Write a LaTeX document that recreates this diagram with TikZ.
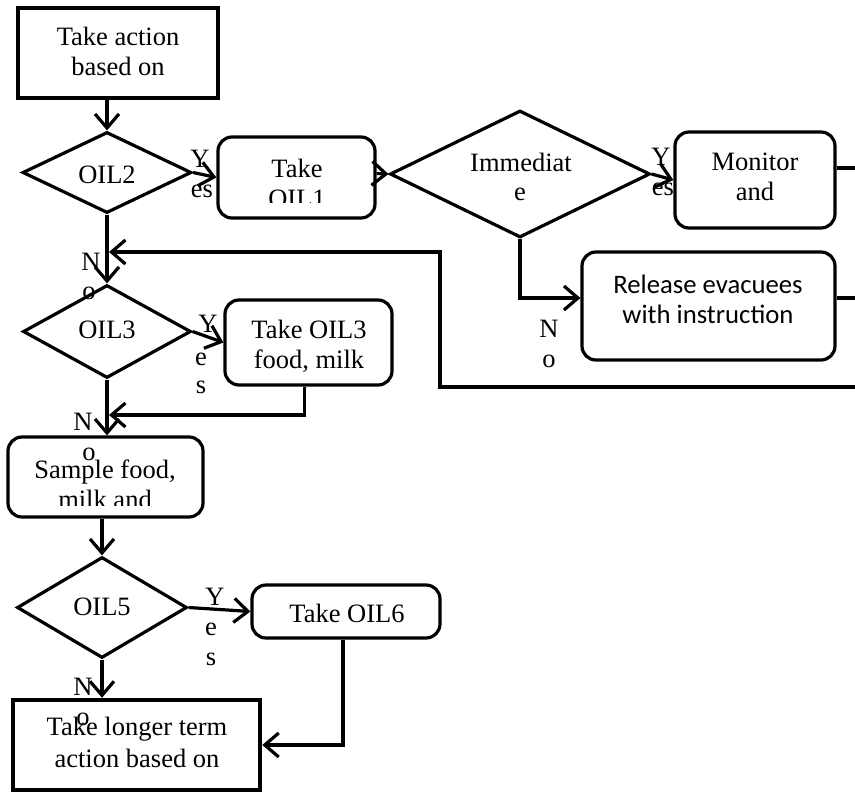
\documentclass[tikz,border=0pt]{standalone}
\usepackage{fontspec}
\setmainfont{Liberation Serif}
\newfontfamily\sansbody{Carlito}
\usetikzlibrary{arrows.meta,shapes.geometric}

\begin{document}
\begin{tikzpicture}[x=1pt,y=-1pt,line width=3.2pt,
  flow/.style={-{Straight Barb[length=14pt,width=24pt,line width=3.2pt]}},
  sqbox/.style={draw,line width=4pt,inner sep=0pt},
  rbox/.style={draw,rounded corners=14pt,inner sep=0pt},
  decision/.style={draw,diamond,inner sep=0pt},
  txt/.style={font=\fontsize{26.5}{30}\selectfont,anchor=base,inner sep=0pt},
  stxt/.style={font=\sansbody\fontsize{26.7}{30}\selectfont,anchor=base,inner sep=0pt}]

\useasboundingbox (0,0) rectangle (855,793);

% ---- shapes ----
\node[sqbox,minimum width=200pt,minimum height=90pt] (start) at (118,53) {};
\node[decision,minimum width=169pt,minimum height=81pt] (d2) at (107,172.5) {};
\node[rbox,minimum width=157pt,minimum height=81pt] (oil1) at (296.5,177.5) {};
\node[decision,minimum width=260pt,minimum height=127pt] (dimm) at (520,174) {};
\node[rbox,minimum width=160pt,minimum height=96pt] (mon) at (755,180) {};
\node[rbox,minimum width=253pt,minimum height=108pt] (rel) at (708.5,306) {};
\node[decision,minimum width=168pt,minimum height=93pt] (d3) at (107,331.5) {};
\node[rbox,minimum width=167pt,minimum height=85pt] (oil3) at (308.5,342.5) {};
\node[rbox,minimum width=195pt,minimum height=80pt] (sample) at (105.5,477) {};
\node[decision,minimum width=170pt,minimum height=101pt] (d5) at (102,607.5) {};
\node[rbox,minimum width=188pt,minimum height=53pt] (oil6) at (346,611.5) {};
\node[sqbox,line width=4.5pt,minimum width=247pt,minimum height=90pt] (final) at (136.5,745) {};

% ---- texts ----
\node[txt] (t1a) at (118,45) {Take action};
\node[txt] (t1b) at (118,75) {based on};
\node[txt] (t2) at (107,183) {OIL2};
\node[txt] (t3a) at (297,177) {Take};
\begin{scope}
  \clip (218,137) rectangle (375,202);
  \node[txt] (t3b) at (297,207) {OIL1};
\end{scope}
\node[txt] (t4a) at (521,171) {Immediat};
\node[txt] (t4b) at (520,200) {e};
\node[txt] (t5a) at (755,170) {Monitor};
\node[txt] (t5b) at (755,200) {and};
\node[stxt] (t6a) at (708,293) {Release evacuees};
\node[stxt] (t6b) at (708,323) {with instruction};
\node[txt] (t7) at (107,338) {OIL3};
\node[txt] (t8a) at (309,338) {Take OIL3};
\node[txt] (t8b) at (309,368) {food, milk};
\node[txt] (t9a) at (105,478) {Sample food,};
\begin{scope}
  \clip (8,437) rectangle (203,505);
  \node[txt] (t9b) at (105,508) {milk and};
\end{scope}
\node[txt] (t10) at (102,615) {OIL5};
\node[txt] (t11) at (347,622) {Take OIL6};
\node[txt] (t12a) at (137,735) {Take longer term};
\node[txt] (t12b) at (137,767) {action based on};

% ---- branch labels ----
\node[txt] (y1a) at (200,167) {Y};
\node[txt] (y1b) at (202,197) {es};
\node[txt] (y2a) at (661,165) {Y};
\node[txt] (y2b) at (663,195) {es};
\node[txt] (n1a) at (549,337) {N};
\node[txt] (n1b) at (549,367) {o};
\node[txt] (n2a) at (91,270) {N};
\node[txt] (n2b) at (89,299) {o};
\node[txt] (y3a) at (208,332) {Y};
\node[txt] (y3b) at (201,365) {e};
\node[txt] (y3c) at (201,393) {s};
\node[txt] (n3a) at (83,430) {N};
\node[txt] (n3b) at (89,460) {o};
\node[txt] (y5a) at (215,605) {Y};
\node[txt] (y5b) at (211,635) {e};
\node[txt] (y5c) at (211,665) {s};
\node[txt] (n5a) at (83,695) {N};
\node[txt] (n5b) at (83,725) {o};

% ---- junctions and off-page ends ----
\coordinate (j1) at (109,252);
\coordinate (j2) at (109,415);
\coordinate (monout) at (855,168);
\coordinate (relout) at (855,298);
\coordinate (fbin) at (855,387);

% ---- connectors ----
\draw[flow] (d2.north |- start.south) -- (d2.north);
\draw[flow] (d2.east) -- (oil1.west);
\draw[flow] ([yshift=4pt]oil1.east) -- (dimm.west);
\draw[flow] (dimm.east) -- (mon.west);
\draw (mon.east |- monout) -- (monout);
\draw[flow] (dimm.south) |- ([yshift=8pt]rel.west);
\draw (rel.east |- relout) -- (relout);
\draw[flow] (fbin) -- ++(-415,0) |- (j1);
\draw[flow] (d2.south) -- (d3.north);
\draw[flow] (d3.east) -- (oil3.west);
\draw[flow] ([xshift=-4pt]oil3.south) |- (j2);
\draw[flow] (d3.south) -- (d3.south |- sample.north);
\draw[flow] (d5.north |- sample.south) -- (d5.north);
\draw[flow] (d5.east) -- (oil6.west);
\draw[flow] ([xshift=-3pt]oil6.south) |- (final.east);
\draw[flow] (d5.south) -- (d5.south |- final.north);
\end{tikzpicture}
\end{document}
